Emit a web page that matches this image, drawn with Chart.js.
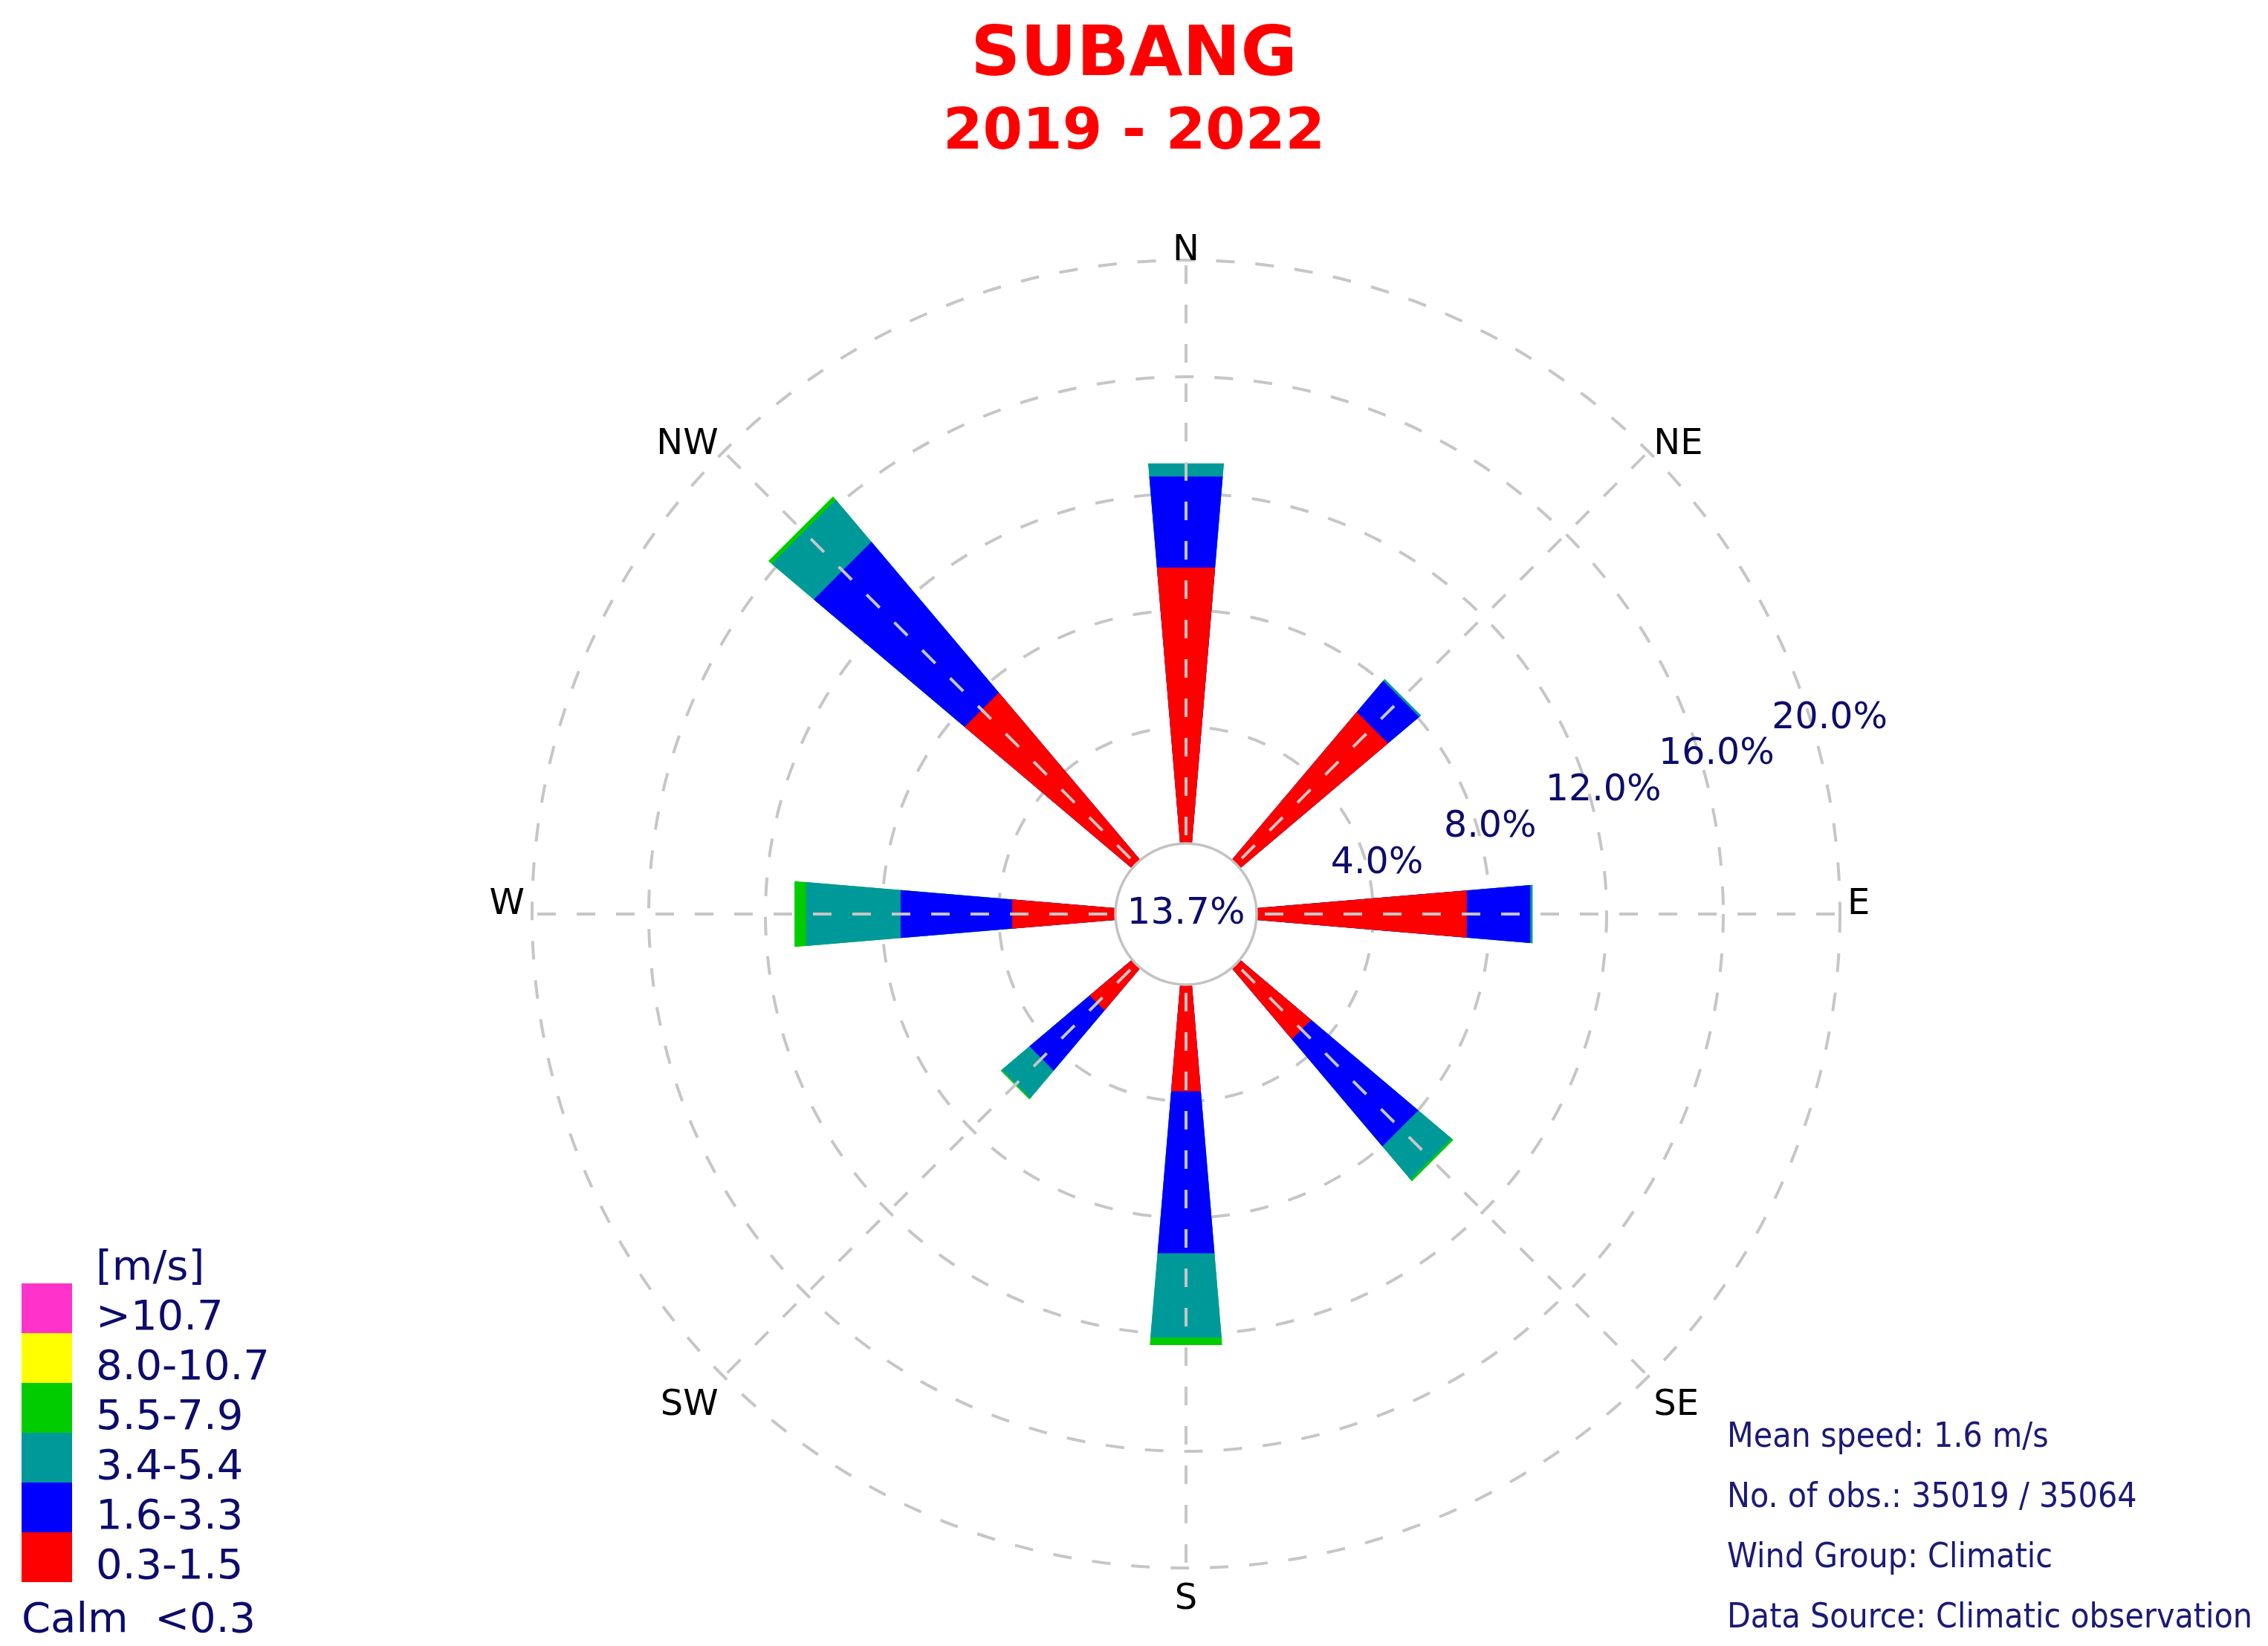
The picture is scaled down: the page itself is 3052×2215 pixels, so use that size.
<!DOCTYPE html>
<html>
<head>
<meta charset="utf-8">
<style>
  html, body { margin: 0; padding: 0; background: #fff; }
  canvas { display: block; }
</style>
</head>
<body>
<canvas id="windRose" width="3052" height="2215"></canvas>
<script src="https://cdn.jsdelivr.net/npm/chart.js"></script>
<script>
// directions, clockwise from north
const directions = ["N", "NE", "E", "SE", "S", "SW", "W", "NW"];

// frequency (%) of each speed class per direction
const speed03to15 = [9.50, 6.65, 7.24, 3.20, 3.68, 1.91, 3.56, 7.52];
const speed16to33 = [3.13, 1.40, 2.18, 4.81, 5.57, 2.70, 3.84, 6.77];
const speed34to54 = [0.45, 0.08, 0.08, 1.49, 2.90, 1.24, 3.25, 1.89];
const speed55to79 = [0.00, 0.00, 0.00, 0.08, 0.26, 0.05, 0.40, 0.15];
const speed80to107 = [0, 0, 0, 0, 0, 0, 0, 0];
const speedOver107 = [0, 0, 0, 0, 0, 0, 0, 0];

const speedLabels = ["0.3-1.5", "1.6-3.3", "3.4-5.4", "5.5-7.9", "8.0-10.7", ">10.7"];
const speedColors = ["#ff0000", "#0000ff", "#009999", "#00cc00", "#ffff00", "#ff33cc"];

const calmPercent = 13.7;
const ringTicks = [4, 8, 12, 16, 20];
const infoLines = [
  "Mean speed: 1.6 m/s",
  "No. of obs.: 35019 / 35064",
  "Wind Group: Climatic",
  "Data Source: Climatic observation"
];

const wedgeAngle = 9.6;    // degrees covered by one petal
const calmOffset = -2.42;  // scale min, leaves room for the calm circle
const navy = "#0c0c6e";
const gridGrey = "#c6c6c6";

// stack the classes: each dataset holds the running total, gaps between petals
const speedBins = [speed03to15, speed16to33, speed34to54, speed55to79, speed80to107, speedOver107];
const petalLabels = directions.flatMap(d => [d, ""]);
const datasets = [];
let running = directions.map(() => 0);
speedBins.forEach((bin, k) => {
  running = running.map((v, i) => v + bin[i]);
  if (bin.every(v => v === 0)) return;
  datasets.push({
    label: speedLabels[k],
    data: running.flatMap(v => [v, 0]),
    angle: directions.flatMap(() => [wedgeAngle, 45 - wedgeAngle]),
    backgroundColor: directions.flatMap(() => [speedColors[k], "rgba(0,0,0,0)"]),
    borderWidth: 0,
    circular: false
  });
});

function put(ctx, str, x, y, font, color, align, baseline) {
  ctx.font = font;
  ctx.fillStyle = color;
  ctx.textAlign = align || "left";
  ctx.textBaseline = baseline || "alphabetic";
  ctx.fillText(str, x, y);
}

const roseDecor = {
  id: "roseDecor",
  afterDraw(chart) {
    const ctx = chart.ctx;
    const r = chart.scales.r;
    const dirScale = chart.scales.rDir;
    const cx = r.xCenter, cy = r.yCenter;
    const calmR = r.getDistanceFromCenterForValue(0);
    const outerR = r.getDistanceFromCenterForValue(r.max);
    ctx.save();

    // calm circle
    ctx.beginPath();
    ctx.arc(cx, cy, calmR, 0, Math.PI * 2);
    ctx.fillStyle = "#fff";
    ctx.fill();
    ctx.lineWidth = 3.5;
    ctx.strokeStyle = "#c2c2c2";
    ctx.stroke();
    put(ctx, calmPercent.toFixed(1) + "%", cx, cy, "50px 'DejaVu Sans'", navy, "center", "middle");

    // ring labels
    ringTicks.forEach(v => {
      const d = r.getDistanceFromCenterForValue(v);
      put(ctx, v.toFixed(1) + "%", cx + 0.970 * d + 12.6, cy - 0.3105 * d + 10.2,
        "49px 'DejaVu Sans'", navy, "center", "middle");
    });

    // compass labels
    const capH = 35;
    directions.forEach((name, i) => {
      const p = dirScale.getPointPosition(i, outerR + 10);
      const dx = p.x - cx, dy = p.y - cy;
      const align = dx > 1 ? "left" : dx < -1 ? "right" : "center";
      let y;
      if (Math.abs(dy) < 1) y = cy;
      else if (dy < 0) y = p.y + 10;
      else y = p.y + 10 + capH;
      put(ctx, name, p.x, y, "48px 'DejaVu Sans'", "#000", align, "alphabetic");
    });

    // title
    const w = chart.width;
    put(ctx, "SUBANG", w / 2, 101, "bold 93px 'DejaVu Sans'", "#ff0000", "center");
    put(ctx, "2019 - 2022", w / 2, 200, "bold 77px 'DejaVu Sans'", "#ff0000", "center");

    // speed legend
    const boxTop = 1727, rowH = 67;
    put(ctx, "[m/s]", 129, 1722, "56px 'DejaVu Sans'", navy);
    for (let k = speedLabels.length - 1, row = 0; k >= 0; k--, row++) {
      ctx.fillStyle = speedColors[k];
      ctx.fillRect(29, boxTop + row * rowH, 68, rowH);
      put(ctx, speedLabels[k], 129, boxTop + row * rowH + 62, "56px 'DejaVu Sans'", navy);
    }
    put(ctx, "Calm  <0.3", 29, 2196, "56px 'DejaVu Sans'", navy);

    // station info
    infoLines.forEach((line, i) => {
      put(ctx, line, 2324, 1947 + i * 81, "46px 'DejaVu Sans Condensed'", "#1a1a78");
    });
    ctx.restore();
  }
};

new Chart(document.getElementById("windRose"), {
  type: "polarArea",
  data: { labels: petalLabels, datasets },
  options: {
    responsive: false,
    animation: false,
    layout: { padding: { left: 716, right: 576, top: 350, bottom: 105 } },
    plugins: {
      legend: { display: false },
      tooltip: { enabled: false }
    },
    scales: {
      r: {
        min: calmOffset,
        max: 20,
        startAngle: -wedgeAngle / 2,
        afterBuildTicks: s => { s.ticks = ringTicks.map(v => ({ value: v })); },
        ticks: { display: false },
        grid: { circular: true, color: gridGrey, lineWidth: 4 },
        border: { dash: [25, 28] },
        angleLines: { display: false },
        pointLabels: { display: false }
      },
      rDir: {
        type: "radialLinear",
        axis: "r",
        min: calmOffset,
        max: 20,
        startAngle: 0,
        labels: directions,
        ticks: { display: false },
        grid: { display: false, z: 1 },
        angleLines: { display: true, color: gridGrey, lineWidth: 4, borderDash: [25, 28] },
        pointLabels: { display: false }
      }
    }
  },
  plugins: [roseDecor]
});
</script>
</body>
</html>
